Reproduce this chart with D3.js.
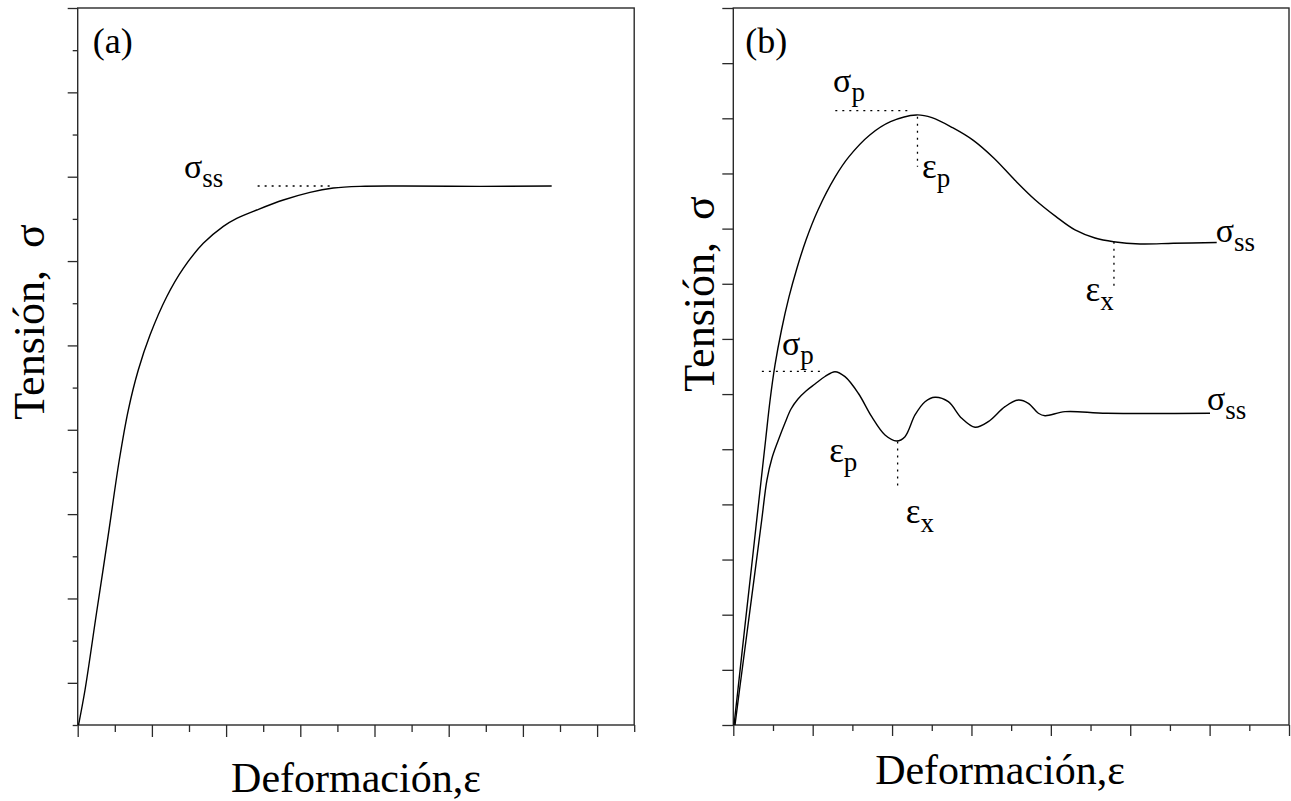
<!DOCTYPE html>
<html>
<head>
<meta charset="utf-8">
<script src="https://cdn.jsdelivr.net/npm/d3@7"></script>
<style>
  html, body { margin: 0; padding: 0; background: #fff; }
  svg { display: block; }
  text { font-family: "Liberation Serif", "Times New Roman", serif; fill: #000; }
</style>
</head>
<body>
<svg id="chart" width="1291" height="801"></svg>
<script>
// ---------- data ----------
// Panel (a): monotonic work-hardening curve up to steady state
const aStrain = [0.022, 0.197, 0.507, 0.817, 1.121, 1.364, 1.633, 1.949, 2.399, 2.846, 3.385, 3.925, 4.286, 4.825, 5.542, 6.261, 6.889, 7.609, 8.768, 10.84, 12.776];
const aStress = [0, 0.830, 2.655, 4.464, 6.283, 7.468, 8.416, 9.246, 10.154, 10.827, 11.420, 11.823, 12.013, 12.210, 12.447, 12.629, 12.731, 12.771, 12.778, 12.770, 12.778];

// Panel (b) upper curve: single peak
const bUpperStrain = [0.018, 0.116, 0.282, 0.451, 0.632, 0.814, 0.927, 1.051, 1.214, 1.403, 1.605, 1.832, 2.134, 2.570, 2.915, 3.439, 3.961, 4.613, 5.004, 5.525, 6.047, 6.568, 7.090, 7.609, 8.131, 8.609, 9.113, 9.579, 10.247, 11.086, 12.179];
const bUpperStress = [0, 0.635, 1.723, 2.810, 3.989, 5.168, 5.893, 6.528, 7.162, 7.761, 8.287, 8.794, 9.338, 9.942, 10.305, 10.698, 10.939, 11.061, 11.012, 10.830, 10.600, 10.276, 9.882, 9.519, 9.217, 8.976, 8.830, 8.763, 8.722, 8.734, 8.749];

// Panel (b) lower curve: cyclic (multiple peaks)
const bLowerStrain = [0.043, 0.156, 0.454, 0.716, 0.847, 0.975, 1.126, 1.302, 1.454, 1.630, 1.832, 2.058, 2.310, 2.562, 2.814, 3.149, 3.487, 3.822, 4.117, 4.326, 4.578, 4.830, 5.082, 5.417, 5.755, 6.090, 6.425, 6.845, 7.181, 7.433, 7.685, 7.853, 8.357, 9.408, 12.01];
const bLowerStress = [0, 0.635, 2.267, 3.717, 4.442, 4.841, 5.150, 5.476, 5.730, 5.911, 6.056, 6.183, 6.319, 6.406, 6.316, 6.015, 5.590, 5.258, 5.150, 5.228, 5.621, 5.862, 5.942, 5.862, 5.561, 5.398, 5.500, 5.772, 5.893, 5.833, 5.652, 5.608, 5.681, 5.652, 5.652];

// Reference (dotted) guide lines: [x1, y1, x2, y2] in data units
const aGuides = [[4.85, 12.78, 6.9, 12.78]];
const bGuides = [
  [2.57, 11.14, 4.48, 11.14],   // sigma_p upper
  [4.64, 11.03, 4.64, 10.12],   // eps_p upper
  [9.59, 8.76, 9.59, 7.92],     // eps_x upper
  [0.72, 6.41, 2.31, 6.41],     // sigma_p lower
  [4.14, 5.14, 4.14, 4.26]      // eps_x lower
];

// Annotation labels: [x, y (data units), symbol, subscript]
const aLabels = [[2.89, 12.97, "σ", "ss"]];
const bLabels = [
  [2.54, 11.48, "σ", "p"],
  [4.78, 9.92, "ε", "p"],
  [8.90, 7.68, "ε", "x"],
  [12.18, 8.76, "σ", "ss"],
  [1.25, 6.71, "σ", "p"],
  [2.44, 4.77, "ε", "p"],
  [4.37, 3.66, "ε", "x"],
  [11.96, 5.71, "σ", "ss"]
];

// Axis ticks (unlabelled)
const aXMajor = [0, 2, 4, 6, 8, 10, 12, 14];
const aXMinor = [1, 3, 5, 7, 9, 11, 13, 15];
const aYMajor = [1, 3, 5, 7, 9, 11, 13, 15, 17];
const aYMinor = [0, 2, 4, 6, 8, 10, 12, 14, 16];
const bXMajor = [0, 2, 4, 6, 8, 10, 12, 14];
const bXMinor = [1, 3, 5, 7, 9, 11, 13];
const bYTicks = [0, 1, 2, 3, 4, 5, 6, 7, 8, 9, 10, 11, 12, 13];

const xTitle = "Deformación,ε";
const yTitle = "Tensión,  σ";
const panelNames = ["(a)", "(b)"];

// ---------- layout ----------
const svg = d3.select("#chart");

const panelA = { left: 77.7, right: 634.2, top: 8, bottom: 725, xMax: 15, yMax: 17 };
const panelB = { left: 733.3, right: 1289, top: 8, bottom: 725, xMax: 14, yMax: 13 };

function makeScales(p) {
  return {
    x: d3.scaleLinear().domain([0, p.xMax]).range([p.left, p.right]),
    y: d3.scaleLinear().domain([0, p.yMax]).range([p.bottom, p.top])
  };
}
const sA = makeScales(panelA);
const sB = makeScales(panelB);

const axisColor = "#2a2a2a";

function drawFrame(p) {
  svg.append("rect")
    .attr("x", p.left).attr("y", p.top)
    .attr("width", p.right - p.left).attr("height", p.bottom - p.top)
    .attr("fill", "none").attr("stroke", axisColor).attr("stroke-width", 1.4);
}

function drawAxis(s, p, xMaj, xMin, xMajLen, xMinLen, yMaj, yMin, yMajLen, yMinLen) {
  const groups = [
    [d3.axisBottom(s.x).tickValues(xMaj).tickSize(xMajLen), `translate(0,${p.bottom})`],
    [d3.axisBottom(s.x).tickValues(xMin).tickSize(xMinLen), `translate(0,${p.bottom})`],
    [d3.axisLeft(s.y).tickValues(yMaj).tickSize(yMajLen), `translate(${p.left},0)`]
  ];
  if (yMin) groups.push([d3.axisLeft(s.y).tickValues(yMin).tickSize(yMinLen), `translate(${p.left},0)`]);
  groups.forEach(([ax, tr]) => {
    const g = svg.append("g").attr("transform", tr).call(ax.tickFormat(""));
    g.select(".domain").remove();
    g.selectAll("line").attr("stroke", axisColor).attr("stroke-width", 1.3);
  });
}

drawFrame(panelA);
drawFrame(panelB);
drawAxis(sA, panelA, aXMajor, aXMinor, 12, 7, aYMajor, aYMinor, 10, 5);
drawAxis(sB, panelB, bXMajor, bXMinor, 11, 6, bYTicks, null, 11, 0);

// ---------- curves ----------
function drawCurve(s, xs, ys) {
  const pts = xs.map((x, i) => [x, ys[i]]);
  const line = d3.line()
    .x(d => s.x(d[0])).y(d => s.y(d[1]))
    .curve(d3.curveCatmullRom.alpha(0.5));
  svg.append("path").datum(pts)
    .attr("d", line)
    .attr("fill", "none").attr("stroke", "#000")
    .attr("stroke-width", 1.4).attr("stroke-linejoin", "round");
}
drawCurve(sA, aStrain, aStress);
drawCurve(sB, bUpperStrain, bUpperStress);
drawCurve(sB, bLowerStrain, bLowerStress);

// ---------- dotted guides ----------
function drawGuides(s, guides) {
  svg.append("g").selectAll("line").data(guides).join("line")
    .attr("x1", d => s.x(d[0])).attr("y1", d => s.y(d[1]))
    .attr("x2", d => s.x(d[2])).attr("y2", d => s.y(d[3]))
    .attr("stroke", "#000").attr("stroke-width", 1.3)
    .attr("stroke-dasharray", "2,5");
}
drawGuides(sA, aGuides);
drawGuides(sB, bGuides);

// ---------- labels ----------
function drawLabels(s, labels) {
  labels.forEach(([x, y, sym, sub]) => {
    const t = svg.append("text")
      .attr("x", s.x(x) - 1).attr("y", s.y(y));
    const isEps = sym === "ε";
    t.append("tspan").text(sym).attr("font-size", isEps ? 35 : 34);
    t.append("tspan").text(sub).attr("font-size", 27).attr("dy", 9);
  });
}
drawLabels(sA, aLabels);
drawLabels(sB, bLabels);

// panel letters
svg.append("text").attr("x", panelA.left + 15).attr("y", 53).attr("font-size", 36).text(panelNames[0]);
svg.append("text").attr("x", panelB.left + 12).attr("y", 53).attr("font-size", 36).text(panelNames[1]);

// axis titles
svg.append("text").attr("x", (panelA.left + panelA.right) / 2).attr("y", 792)
  .attr("text-anchor", "middle").attr("font-size", 42).text(xTitle);
svg.append("text").attr("x", 1000).attr("y", 784)
  .attr("text-anchor", "middle").attr("font-size", 42).text(xTitle);

svg.append("text").attr("transform", "translate(44,322) rotate(-90)")
  .attr("text-anchor", "middle").attr("font-size", 44)
  .style("white-space", "pre").text(yTitle);
svg.append("text").attr("transform", "translate(714,294) rotate(-90)")
  .attr("text-anchor", "middle").attr("font-size", 44)
  .style("white-space", "pre").text(yTitle);
</script>
</body>
</html>
